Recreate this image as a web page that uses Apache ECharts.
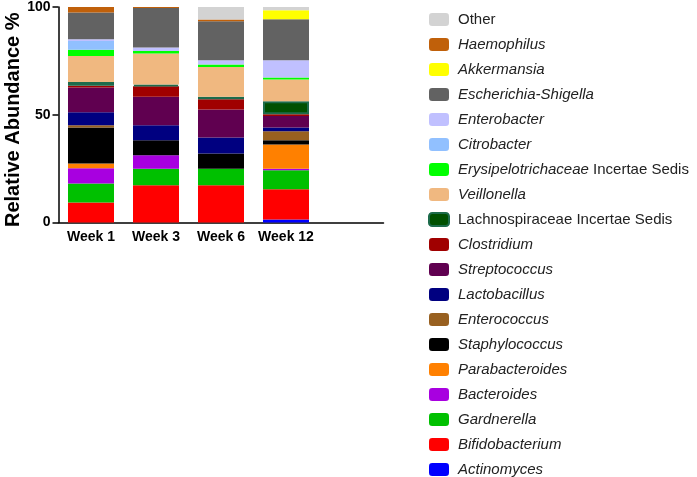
<!DOCTYPE html>
<html>
<head>
<meta charset="utf-8">
<script src="https://cdn.jsdelivr.net/npm/echarts@6/dist/echarts.min.js"></script>
<style>
  html, body { margin: 0; padding: 0; background: #fff; }
  #main { width: 697px; height: 477px; }
</style>
</head>
<body>
<div id="main"></div>
<script>
"use strict";
// categories (last slot is empty, like the original axis)
var weeks = ['Week 1', 'Week 3', 'Week 6', 'Week 12', ''];
var yTicks = [0, 50, 100];

// relative abundance per genus, Week 1 / 3 / 6 / 12
var actinomyces       = [0,    0,    0,    1.4];
var bifidobacterium   = [9.3,  17.3, 17.3, 14.0];
var gardnerella       = [8.8,  7.7,  7.7,  8.9];
var bacteroides       = [7.1,  6.2,  0,    0.7];
var parabacteroides   = [2.2,  0,    0,    11.2];
var staphylococcus    = [16.7, 7.0,  7.0,  2.0];
var enterococcus      = [1.0,  0,    0,    4.1];
var lactobacillus     = [6.1,  6.9,  7.4,  1.8];
var streptococcus     = [11.4, 13.2, 13.0, 5.3];
var clostridium       = [0.8,  4.9,  4.8,  0.8];
var lachnospiraceae   = [1.8,  0.8,  1.1,  6.1];
var veillonella       = [12.1, 14.4, 13.9, 10.0];
var erysipelo         = [2.9,  1.2,  1.1,  1.0];
var citrobacter       = [4.0,  0,    0,    0];
var enterobacter      = [0.8,  1.6,  2.0,  8.0];
var escherichia       = [12.5, 18.3, 18.1, 19.0];
var akkermansia       = [0,    0,    0,    4.2];
var haemophilus       = [2.5,  0.5,  0.8,  0];
var other             = [0,    0,    5.8,  1.5];

// bottom to top
var stackOrder = [
    ['Actinomyces', actinomyces, '#0000ff'],
    ['Bifidobacterium', bifidobacterium, '#ff0000'],
    ['Gardnerella', gardnerella, '#00c000'],
    ['Bacteroides', bacteroides, '#a800e0'],
    ['Parabacteroides', parabacteroides, '#ff8000'],
    ['Staphylococcus', staphylococcus, '#000000'],
    ['Enterococcus', enterococcus, '#986020'],
    ['Lactobacillus', lactobacillus, '#000080'],
    ['Streptococcus', streptococcus, '#600050'],
    ['Clostridium', clostridium, '#a00000'],
    ['Lachnospiraceae Incertae Sedis', lachnospiraceae, '#005000'],
    ['Veillonella', veillonella, '#f0b880'],
    ['Erysipelotrichaceae Incertae Sedis', erysipelo, '#00ff00'],
    ['Citrobacter', citrobacter, '#91c0ff'],
    ['Enterobacter', enterobacter, '#c0c0ff'],
    ['Escherichia-Shigella', escherichia, '#626262'],
    ['Akkermansia', akkermansia, '#ffff00'],
    ['Haemophilus', haemophilus, '#c0600a'],
    ['Other', other, '#d3d3d3']
];

var font = 'Arial, "Liberation Sans", sans-serif';

function initChart() {
    var myChart = echarts.init(document.getElementById('main'));

    var series = stackOrder.map(function(s) {
        var style = {color: s[2]};
        if (s[0].indexOf('Lachno') === 0) {
            style.borderColor = '#1d6b4b';
            style.borderWidth = 2;
        }
        return {
            name: s[0],
            type: 'bar',
            stack: 'all',
            barWidth: 46,
            itemStyle: style,
            data: s[1]
        };
    });

    var option = {
        animation: false,
        grid: {left: 58.5, right: 313.5, top: 7, bottom: 254.5},
        legend: {
            orient: 'vertical',
            left: 428,
            top: 12,
            padding: 0,
            itemWidth: 20,
            itemHeight: 13,
            itemGap: 10,
            data: stackOrder.map(function(s) { return s[0]; }).reverse(),
            formatter: function(name) {
                if (name === 'Other' || name.indexOf('Lachno') === 0) return '{n0|' + name + '}';
                if (name.indexOf('Erysipelo') === 0) return '{i|Erysipelotrichaceae}{n| Incertae Sedis}';
                return '{i|' + name + '}';
            },
            textStyle: {
                rich: {
                    i: {fontStyle: 'italic', fontSize: 15, fontFamily: font, color: '#222', lineHeight: 15, padding: [0, 0, 0, 4]},
                    n0: {fontSize: 15, fontFamily: font, color: '#222', lineHeight: 15, padding: [0, 0, 0, 4]},
                    n: {fontSize: 15, fontFamily: font, color: '#222', lineHeight: 15}
                }
            }
        },
        xAxis: {
            type: 'category',
            data: weeks,
            axisLine: {lineStyle: {color: '#000', width: 1.5}},
            axisTick: {alignWithLabel: true, length: 4, lineStyle: {color: '#000', width: 1.5}},
            axisLabel: {interval: 0, color: '#000', fontWeight: 'bold', fontSize: 14, fontFamily: font, margin: 8}
        },
        yAxis: {
            type: 'value',
            min: yTicks[0],
            max: yTicks[yTicks.length - 1],
            interval: yTicks[1] - yTicks[0],
            name: 'Relative Abundance %',
            nameLocation: 'middle',
            nameGap: 32,
            nameTextStyle: {color: '#000', fontWeight: 'bold', fontSize: 20, fontFamily: font, padding: [0, 10, 0, 0]},
            splitLine: {show: false},
            axisLine: {show: true, lineStyle: {color: '#000', width: 1.5}},
            axisTick: {show: true, length: 6, lineStyle: {color: '#000', width: 1.5}},
            axisLabel: {color: '#000', fontWeight: 'bold', fontSize: 14, fontFamily: font, margin: 8}
        },
        series: series
    };

    myChart.setOption(option);
}

initChart();
</script>
</body>
</html>
